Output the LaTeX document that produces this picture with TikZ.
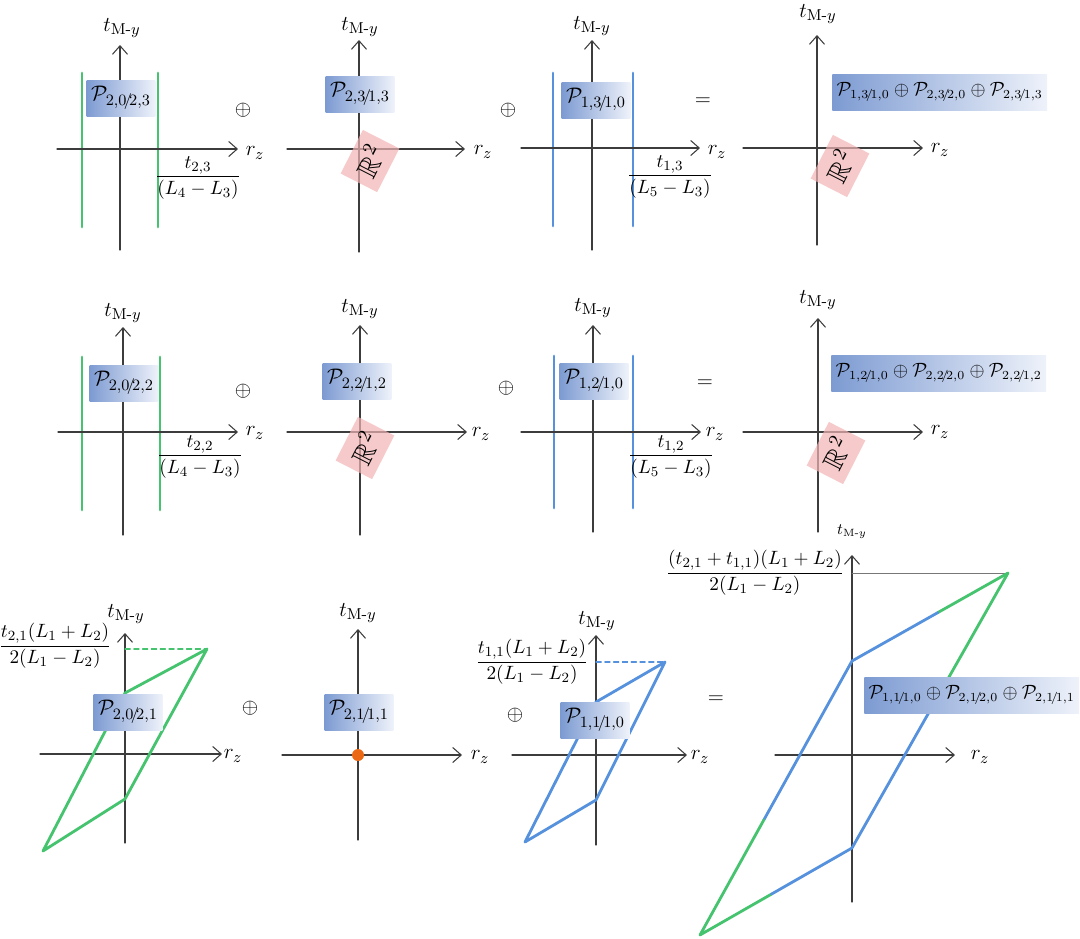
\documentclass[tikz,border=0pt]{standalone}
\usepackage{amsmath,amssymb}
\usepackage{tikz}
\usetikzlibrary{calc,arrows.meta}

\begin{document}
\begin{tikzpicture}[x=0.02cm, y=-0.02cm, line cap=round, line join=round,
  font=\fontsize{13}{15}\selectfont,
  axisline/.style={draw=axisgray, line width=0.6pt, -{Straight Barb[length=1.7mm,width=3mm]}},
  pbox/.style={left color=boxdark, right color=boxlight, inner sep=2.5pt, minimum height=0.72cm, minimum width=1.15cm},
  sumbox/.style={pbox, anchor=west, font=\fontsize{10.5}{12}\selectfont},
  realbox/.style={fill=pinkbox, fill opacity=0.7, text opacity=1, rotate=63, inner sep=0pt,
    minimum width=0.98cm, minimum height=0.82cm, font=\fontsize{16}{18}\selectfont},
  fraclbl/.style={font=\fontsize{11}{13}\selectfont, inner sep=1pt},
  wallg/.style={draw=lgreen, line width=1.6pt},
  wallb/.style={draw=lblue, line width=1.6pt},
  levelg/.style={draw=lgreen, line width=0.6pt, densely dashed},
  levelb/.style={draw=lblue, line width=0.6pt, densely dashed}]

% Colors
\definecolor{axisgray}{RGB}{60,60,60}
\definecolor{lgreen}{RGB}{70,195,110}
\definecolor{lblue}{RGB}{85,145,220}
\definecolor{boxdark}{RGB}{125,155,210}
\definecolor{boxlight}{RGB}{238,242,250}
\definecolor{pinkbox}{RGB}{242,180,180}
\definecolor{dotorange}{RGB}{235,105,20}

\useasboundingbox (0,0) rectangle (1080,938);

% ---------------- first row ----------------
\begin{scope}[shift={(120,149)}]
  \draw[wallg] (-38,-76) -- (-38,78);
  \draw[wallg] (38,-76) -- (38,78);
  \draw[axisline] (-63,0) -- (118,0);
  \draw[axisline] (0,101) -- (0,-104);
  \node (tA1) at (2,-121) {$t_{\mathrm{M}\text{-}y}$};
  \node (rA1) at (135,4) {$r_z$};
  \node[pbox] (pA1) at (1,-51) {$\mathcal{P}_{2,0\!/\!2,3}$};
  \node[fraclbl] (fA1) at (78,29) {$\dfrac{t_{2,3}}{(L_4-L_3)}$};
\end{scope}

\begin{scope}[shift={(359,149)}]
  \draw[axisline] (-72,0) -- (106,0);
  \draw[axisline] (0,103) -- (0,-109);
  \node (tB1) at (1,-122) {$t_{\mathrm{M}\text{-}y}$};
  \node (rB1) at (124,3) {$r_z$};
  \node[pbox] (pB1) at (1,-55) {$\mathcal{P}_{2,3\!/\!1,3}$};
  \node[realbox] (RB1) at (11,12) {$\mathbb{R}^2$};
\end{scope}

\begin{scope}[shift={(592,148)}]
  \draw[wallb] (-39,-75) -- (-39,78);
  \draw[wallb] (41,-75) -- (41,78);
  \draw[axisline] (-71,0) -- (108,0);
  \draw[axisline] (0,102) -- (0,-108);
  \node (tC1) at (0,-122) {$t_{\mathrm{M}\text{-}y}$};
  \node (rC1) at (125,4) {$r_z$};
  \node[pbox] (pC1) at (4,-48) {$\mathcal{P}_{1,3\!/\!1,0}$};
  \node[fraclbl] (fC1) at (78,29) {$\dfrac{t_{1,3}}{(L_5-L_3)}$};
\end{scope}

\begin{scope}[shift={(817,148)}]
  \draw[axisline] (-74,0) -- (106,0);
  \draw[axisline] (0,97) -- (0,-113);
  \node (tD1) at (1,-134) {$t_{\mathrm{M}\text{-}y}$};
  \node (rD1) at (123,2) {$r_z$};
  \node[realbox] (RD1) at (23,18) {$\mathbb{R}^2$};
  \node[sumbox] (pD1) at (15,-56)
    {$\mathcal{P}_{1,3\!/\!1,0}\oplus\mathcal{P}_{2,3\!/\!2,0}\oplus\mathcal{P}_{2,3\!/\!1,3}$};
\end{scope}

\node (op11) at (243,110) {$\oplus$};
\node (op12) at (508,110) {$\oplus$};
\node (eq1) at (703,102) {$=$};

% ---------------- second row ----------------
\begin{scope}[shift={(123,432)}]
  \draw[wallg] (-41,-75) -- (-41,78);
  \draw[wallg] (37,-75) -- (37,78);
  \draw[axisline] (-65,0) -- (115,0);
  \draw[axisline] (0,103) -- (0,-105);
  \node (tA2) at (0,-119) {$t_{\mathrm{M}\text{-}y}$};
  \node (rA2) at (132,1) {$r_z$};
  \node[pbox] (pA2) at (1,-49) {$\mathcal{P}_{2,0\!/\!2,2}$};
  \node[fraclbl] (fA2) at (77,25) {$\dfrac{t_{2,2}}{(L_4-L_3)}$};
\end{scope}

\begin{scope}[shift={(360,432)}]
  \draw[axisline] (-73,0) -- (107,0);
  \draw[axisline] (0,103) -- (0,-107);
  \node (tB2) at (0,-123) {$t_{\mathrm{M}\text{-}y}$};
  \node (rB2) at (121,2) {$r_z$};
  \node[pbox] (pB2) at (-3,-51) {$\mathcal{P}_{2,2\!/\!1,2}$};
  \node[realbox] (RB2) at (5,16) {$\mathbb{R}^2$};
\end{scope}

\begin{scope}[shift={(593,432)}]
  \draw[wallb] (-39,-76) -- (-39,76);
  \draw[wallb] (40,-76) -- (40,76);
  \draw[axisline] (-72,0) -- (108,0);
  \draw[axisline] (0,100) -- (0,-107);
  \node (tC2) at (0,-124) {$t_{\mathrm{M}\text{-}y}$};
  \node (rC2) at (122,2) {$r_z$};
  \node[pbox] (pC2) at (1,-51) {$\mathcal{P}_{1,2\!/\!1,0}$};
  \node[fraclbl] (fC2) at (78,25) {$\dfrac{t_{1,2}}{(L_5-L_3)}$};
\end{scope}

\begin{scope}[shift={(818,432)}]
  \draw[axisline] (-75,0) -- (105,0);
  \draw[axisline] (0,100) -- (0,-114);
  \node (tD2) at (0,-132) {$t_{\mathrm{M}\text{-}y}$};
  \node (rD2) at (122,0) {$r_z$};
  \node[realbox] (RD2) at (18,21) {$\mathbb{R}^2$};
  \node[sumbox] (pD2) at (13,-59)
    {$\mathcal{P}_{1,2\!/\!1,0}\oplus\mathcal{P}_{2,2\!/\!2,0}\oplus\mathcal{P}_{2,2\!/\!1,2}$};
\end{scope}

\node (op21) at (243,391) {$\oplus$};
\node (op22) at (506,388) {$\oplus$};
\node (eq2) at (705,384) {$=$};

% ---------------- third row ----------------
\begin{scope}[shift={(125,754)}]
  \draw[axisline] (-85,0) -- (97,0);
  \draw[axisline] (0,89) -- (0,-121);
  \coordinate (trA) at (82,-105);
  \draw[levelg] (0,-105) -- (trA);
  \draw[wallg] (trA) -- (0,-61) -- (-82,97) -- (0,45) -- cycle;
  \node (tA3) at (1,-140) {$t_{\mathrm{M}\text{-}y}$};
  \node (rA3) at (108,2) {$r_z$};
  \node[pbox] (pA3) at (3,-42) {$\mathcal{P}_{2,0\!/\!2,1}$};
  \node[fraclbl] (fA3) at (-70,-108) {$\dfrac{t_{2,1}(L_1+L_2)}{2(L_1-L_2)}$};
\end{scope}

\begin{scope}[shift={(358,755)}]
  \draw[axisline] (-76,0) -- (104,0);
  \draw[axisline] (0,85) -- (0,-126);
  \fill[dotorange] (0,0) circle (6);
  \node (tB3) at (0,-142) {$t_{\mathrm{M}\text{-}y}$};
  \node (rB3) at (122,2) {$r_z$};
  \node[pbox] (pB3) at (1,-43) {$\mathcal{P}_{2,1\!/\!1,1}$};
\end{scope}

\begin{scope}[shift={(596,755)}]
  \draw[axisline] (-84,0) -- (91,0);
  \draw[axisline] (0,90) -- (0,-120);
  \coordinate (trC) at (69,-93);
  \draw[levelb] (0,-93) -- (trC);
  \draw[wallb] (trC) -- (0,-53) -- (-71,87) -- (0,45) -- cycle;
  \node (tC3) at (1,-134) {$t_{\mathrm{M}\text{-}y}$};
  \node (rC3) at (104,2) {$r_z$};
  \node[pbox] (pC3) at (-1,-35) {$\mathcal{P}_{1,1\!/\!1,0}$};
  \node[fraclbl] (fC3) at (-64,-93) {$\dfrac{t_{1,1}(L_1+L_2)}{2(L_1-L_2)}$};
\end{scope}

\begin{scope}[shift={(852,755)}]
  \draw[axisline] (-77,0) -- (103,0);
  \draw[axisline] (0,147) -- (0,-200);
  \coordinate (tr) at (156,-182);
  \coordinate (ua) at (0,-94);
  \coordinate (bl) at (-152,180);
  \coordinate (la) at (0,93);
  \draw[axisgray!70, line width=0.5pt] (0,-182) -- (tr);
  % green and blue parts of the sum
  \draw[wallg] ($(la)!0.58!(tr)$) -- (tr) -- ($(tr)!0.45!(ua)$);
  \draw[wallb] ($(tr)!0.45!(ua)$) -- (ua) -- ($(ua)!0.58!(bl)$);
  \draw[wallg] ($(ua)!0.58!(bl)$) -- (bl) -- ($(bl)!0.47!(la)$);
  \draw[wallb] ($(bl)!0.47!(la)$) -- (la) -- ($(la)!0.58!(tr)$);
  \node[font=\fontsize{9}{11}\selectfont] (tD3) at (0,-223) {$t_{\mathrm{M}\text{-}y}$};
  \node (rD3) at (128,2) {$r_z$};
  \node[sumbox] (pD3) at (12,-60)
    {$\mathcal{P}_{1,1\!/\!1,0}\oplus\mathcal{P}_{2,1\!/\!2,0}\oplus\mathcal{P}_{2,1\!/\!1,1}$};
  \node[fraclbl, anchor=east] (fD3) at (-6,-182) {$\dfrac{(t_{2,1}+t_{1,1})(L_1+L_2)}{2(L_1-L_2)}$};
\end{scope}

\node (op31) at (250,708) {$\oplus$};
\node (op32) at (515,715) {$\oplus$};
\node (eq3) at (716,700) {$=$};
\end{tikzpicture}
\end{document}
